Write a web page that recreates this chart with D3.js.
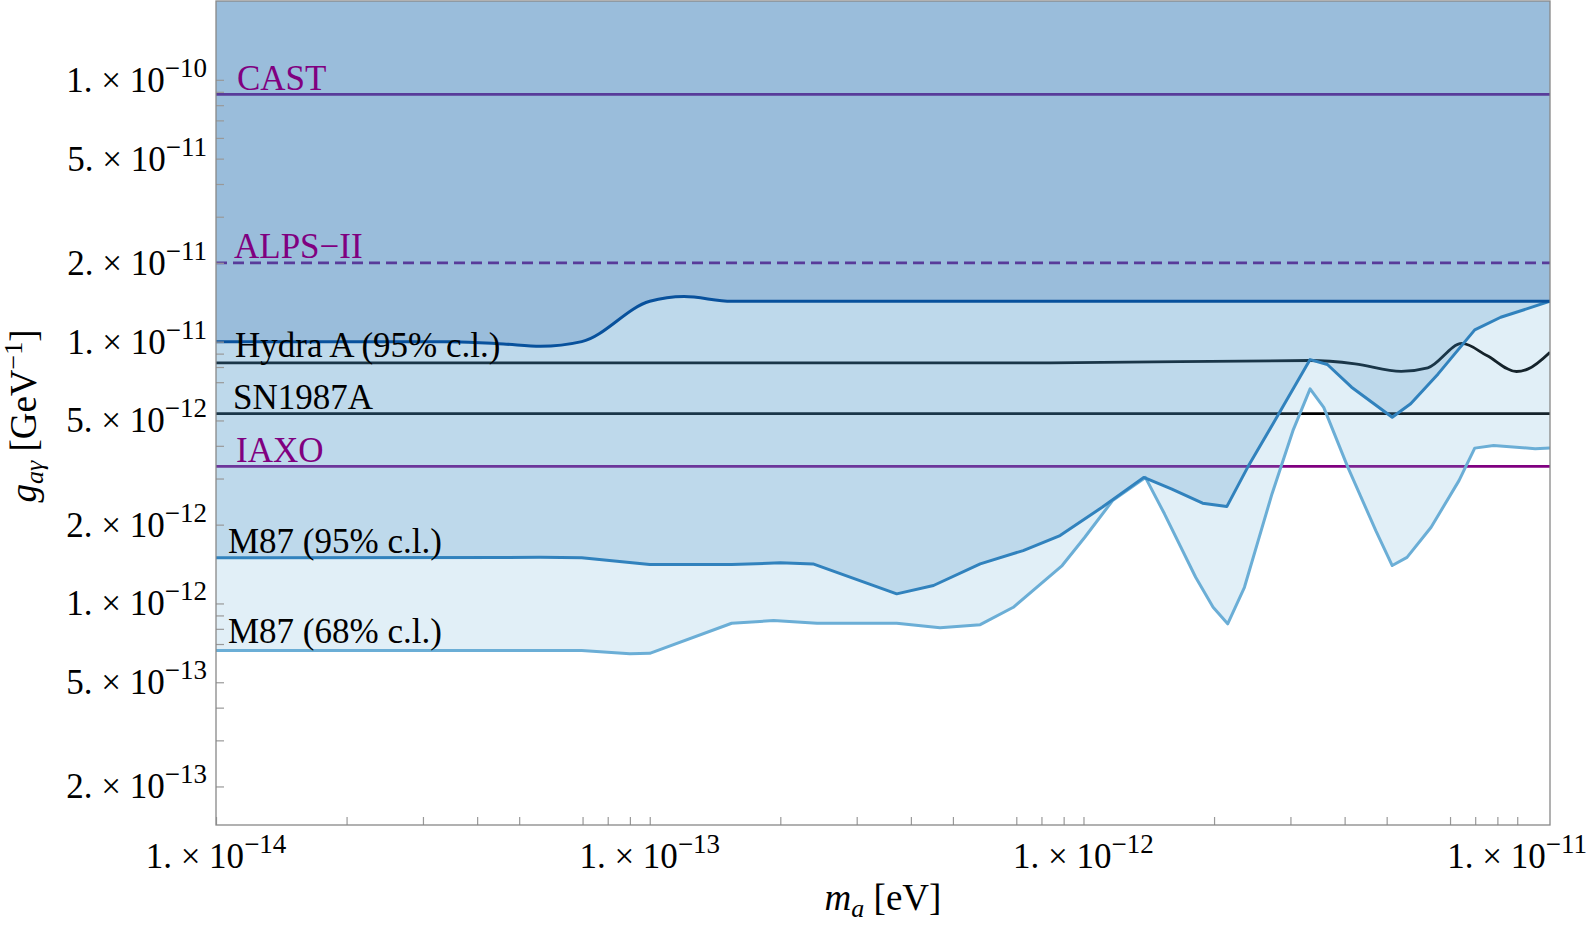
<!DOCTYPE html>
<html>
<head>
<meta charset="utf-8">
<script src="https://cdn.jsdelivr.net/npm/d3@7"></script>
<style>
  body { margin: 0; background: #fff; }
  svg { display: block; font-family: "Liberation Serif", "Times New Roman", serif; }
</style>
</head>
<body>
<div id="chart"></div>
<script>
// axion mass m_a [eV] vs coupling g [GeV^-1]

// unlabeled outer bound (dark blue)
const upperBound = [
  [1e-14, 1.0e-11], [3.5e-14, 1.0e-11], [4.6e-14, 9.8e-12], [5.6e-14, 9.6e-12],
  [6.97e-14, 1.0e-11], [1.0e-13, 1.426e-11], [1.2e-13, 1.487e-11],
  [1.545e-13, 1.426e-11], [1.19e-11, 1.426e-11]
];

const hydraA = [
  [1e-14, 8.30e-12], [8.4e-13, 8.30e-12], [3.33e-12, 8.47e-12], [4.23e-12, 8.23e-12],
  [5.4e-12, 7.70e-12], [6.22e-12, 7.94e-12], [7.46e-12, 9.84e-12], [8.51e-12, 8.85e-12],
  [9.96e-12, 7.69e-12], [1.06e-11, 7.87e-12], [1.19e-11, 9.11e-12]
];

const m87_95 = [
  [1e-14, 1.494e-12], [5.59e-14, 1.50e-12], [6.97e-14, 1.494e-12], [1.0e-13, 1.408e-12],
  [1.545e-13, 1.408e-12], [2.0e-13, 1.429e-12], [2.38e-13, 1.416e-12], [3.71e-13, 1.088e-12],
  [4.51e-13, 1.171e-12], [5.78e-13, 1.416e-12], [7.26e-13, 1.592e-12], [8.83e-13, 1.817e-12],
  [1.104e-12, 2.33e-12], [1.377e-12, 3.03e-12], [1.594e-12, 2.74e-12], [1.882e-12, 2.415e-12],
  [2.14e-12, 2.344e-12], [2.39e-12, 3.31e-12], [2.82e-12, 5.30e-12], [3.33e-12, 8.54e-12],
  [3.65e-12, 8.18e-12], [4.15e-12, 6.70e-12], [5.15e-12, 5.14e-12], [5.68e-12, 5.79e-12],
  [6.57e-12, 7.53e-12], [7.98e-12, 1.109e-11], [9.16e-12, 1.239e-11], [1.19e-11, 1.426e-11]
];

const m87_68 = [
  [1e-14, 6.61e-13], [6.97e-14, 6.61e-13], [9.0e-14, 6.42e-13], [1.0e-13, 6.45e-13],
  [1.545e-13, 8.40e-13], [1.93e-13, 8.60e-13], [2.43e-13, 8.40e-13], [3.71e-13, 8.40e-13],
  [4.67e-13, 8.07e-13], [5.78e-13, 8.30e-13], [6.89e-13, 9.67e-13], [8.93e-13, 1.396e-12],
  [1.007e-12, 1.79e-12], [1.167e-12, 2.47e-12], [1.389e-12, 3.03e-12], [1.537e-12, 2.20e-12],
  [1.814e-12, 1.259e-12], [1.99e-12, 9.67e-13], [2.15e-12, 8.36e-13], [2.35e-12, 1.153e-12],
  [2.72e-12, 2.62e-12], [3.04e-12, 4.57e-12], [3.33e-12, 6.60e-12], [3.58e-12, 5.61e-12],
  [4.07e-12, 3.31e-12], [4.72e-12, 1.898e-12], [5.15e-12, 1.396e-12], [5.57e-12, 1.50e-12],
  [6.33e-12, 1.954e-12], [7.34e-12, 2.945e-12], [7.98e-12, 3.92e-12], [8.82e-12, 4.01e-12],
  [1.1e-11, 3.90e-12], [1.19e-11, 3.92e-12]
];

// constant limits
const limitNames = ['CAST', 'ALPS\u2212II', 'SN1987A', 'IAXO'];
const limitValues = [8.8e-11, 2.0e-11, 5.31e-12, 3.34e-12];

// curve labels and the coupling each sits on
const curveLabels = ['Hydra A (95% c.l.)', 'M87 (95% c.l.)', 'M87 (68% c.l.)'];
const curveLabelValues = [8.30e-12, 1.494e-12, 6.61e-13];

const xDomain = [1e-14, 1.19e-11];
const yDomain = [1.425e-13, 2.0e-10];
const xLabelTicks = [1e-14, 1e-13, 1e-12, 1e-11];
const yLabelTicks = [1e-10, 5e-11, 2e-11, 1e-11, 5e-12, 2e-12, 1e-12, 5e-13, 2e-13];
const xMinorMult = [2, 3, 4, 5, 7, 8, 9];
const yMinorTicks = [9e-11, 8e-11, 7e-11, 6e-11, 4e-11, 3e-11,
                     9e-12, 8e-12, 7e-12, 4e-12, 3e-12,
                     9e-13, 8e-13, 7e-13, 4e-13, 3e-13];

const width = 1594, height = 928;
const plot = { left: 216, right: 1550, top: 1, bottom: 825 };

const svg = d3.select('#chart').append('svg')
  .attr('width', width)
  .attr('height', height);

const x = d3.scaleLog().domain(xDomain).range([plot.left, plot.right]);
const y = d3.scaleLog().domain(yDomain).range([plot.bottom, plot.top]);

svg.append('defs').append('clipPath').attr('id', 'clip')
  .append('rect')
  .attr('x', plot.left).attr('y', plot.top)
  .attr('width', plot.right - plot.left).attr('height', plot.bottom - plot.top);

const g = svg.append('g').attr('clip-path', 'url(#clip)');

const line = d3.line().x(d => x(d[0])).y(d => y(d[1]));
const smoothLine = d3.line().x(d => x(d[0])).y(d => y(d[1])).curve(d3.curveMonotoneX);
const areaAbove = (curve) => d3.area()
  .x(d => x(d[0])).y0(plot.top).y1(d => y(d[1])).curve(curve);

// horizontal limits (drawn under the fills, like the original)
const limitColors = ['#800080', '#800080', '#000000', '#800080'];
limitValues.forEach((v, i) => {
  g.append('line')
    .attr('x1', plot.left).attr('x2', plot.right)
    .attr('y1', y(v)).attr('y2', y(v))
    .attr('stroke', limitColors[i])
    .attr('stroke-width', 2.8)
    .attr('stroke-dasharray', limitNames[i].startsWith('ALPS') ? '11,6' : null);
});

g.append('path')
  .datum(hydraA)
  .attr('d', smoothLine)
  .attr('fill', 'none')
  .attr('stroke', '#000')
  .attr('stroke-width', 2.8);

// exclusion fills, each from its curve up to the top
const bands = [
  { data: m87_68, color: '#6baed6', curve: d3.curveLinear },
  { data: m87_95, color: '#3182bd', curve: d3.curveLinear },
  { data: upperBound, color: '#08519c', curve: d3.curveMonotoneX }
];

bands.forEach(b => {
  g.append('path')
    .datum(b.data)
    .attr('d', areaAbove(b.curve))
    .attr('fill', b.color)
    .attr('fill-opacity', 0.2);
});

bands.forEach(b => {
  g.append('path')
    .datum(b.data)
    .attr('d', b.curve === d3.curveLinear ? line : smoothLine)
    .attr('fill', 'none')
    .attr('stroke', b.color)
    .attr('stroke-width', 3)
    .attr('stroke-linejoin', 'round');
});

// ticks
const xTicks = [];
for (let e = -14; e <= -12; e++) {
  xMinorMult.forEach(m => xTicks.push(m * Math.pow(10, e)));
}
xLabelTicks.forEach(v => xTicks.push(v));

svg.append('g')
  .attr('class', 'x-axis')
  .attr('transform', `translate(0,${plot.bottom})`)
  .call(d3.axisBottom(x).tickValues(xTicks).tickSize(-8).tickFormat(''))
  .call(a => a.select('.domain').remove())
  .selectAll('line').attr('stroke', '#999').attr('stroke-width', 1.2);

svg.append('g')
  .attr('class', 'y-axis')
  .attr('transform', `translate(${plot.left},0)`)
  .call(d3.axisLeft(y).tickValues(yLabelTicks.concat(yMinorTicks)).tickSize(-8).tickFormat(''))
  .call(a => a.select('.domain').remove())
  .selectAll('line').attr('stroke', '#999').attr('stroke-width', 1.2);

// frame
svg.append('rect')
  .attr('x', plot.left).attr('y', plot.top)
  .attr('width', plot.right - plot.left).attr('height', plot.bottom - plot.top)
  .attr('fill', 'none')
  .attr('stroke', '#888')
  .attr('stroke-width', 1.3);

// tick labels like "1. × 10^-11"
function sciLabel(sel, v) {
  const exp = Math.floor(Math.log10(v) + 1e-9);
  const mant = Math.round(v / Math.pow(10, exp));
  sel.append('tspan').text(`${mant}. \u00d7 10`);
  sel.append('tspan').attr('dy', -15).attr('font-size', 27).text('\u2212' + Math.abs(exp));
}

xLabelTicks.forEach(v => {
  const t = svg.append('text')
    .attr('x', x(v)).attr('y', 868)
    .attr('text-anchor', 'middle')
    .attr('font-size', 35)
    .attr('fill', '#000');
  sciLabel(t, v);
});

yLabelTicks.forEach(v => {
  const t = svg.append('text')
    .attr('x', 207).attr('y', y(v) + 12)
    .attr('text-anchor', 'end')
    .attr('font-size', 35)
    .attr('fill', '#000');
  sciLabel(t, v);
});

// axis titles
const xt = svg.append('text')
  .attr('x', 883).attr('y', 910)
  .attr('text-anchor', 'middle')
  .attr('font-size', 37);
xt.append('tspan').attr('font-style', 'italic').text('m');
xt.append('tspan').attr('font-style', 'italic').attr('font-size', 26).attr('dy', 7).text('a');
xt.append('tspan').attr('dy', -7).text(' [eV]');

const yt = svg.append('text')
  .attr('transform', 'translate(36,416) rotate(-90)')
  .attr('text-anchor', 'middle')
  .attr('font-size', 37);
yt.append('tspan').attr('font-style', 'italic').text('g');
yt.append('tspan').attr('font-style', 'italic').attr('font-size', 26).attr('dy', 7).text('a\u03b3');
yt.append('tspan').attr('dy', -7).text(' [GeV');
yt.append('tspan').attr('font-size', 26).attr('dy', -14).text('\u22121');
yt.append('tspan').attr('dy', 14).text(']');

// in-plot labels
const limitLabelX = [237, 234, 233, 236];
limitNames.forEach((name, i) => {
  svg.append('text')
    .attr('x', limitLabelX[i])
    .attr('y', y(limitValues[i]) - 4.5)
    .attr('font-size', 35)
    .attr('fill', i === 2 ? '#000' : '#800080')
    .text(name);
});

const curveLabelX = [235, 228, 228];
const curveLabelDy = [-6, -4.5, -8];
curveLabels.forEach((name, i) => {
  svg.append('text')
    .attr('x', curveLabelX[i])
    .attr('y', y(curveLabelValues[i]) + curveLabelDy[i])
    .attr('font-size', 35)
    .attr('fill', '#000')
    .text(name);
});
</script>
</body>
</html>
